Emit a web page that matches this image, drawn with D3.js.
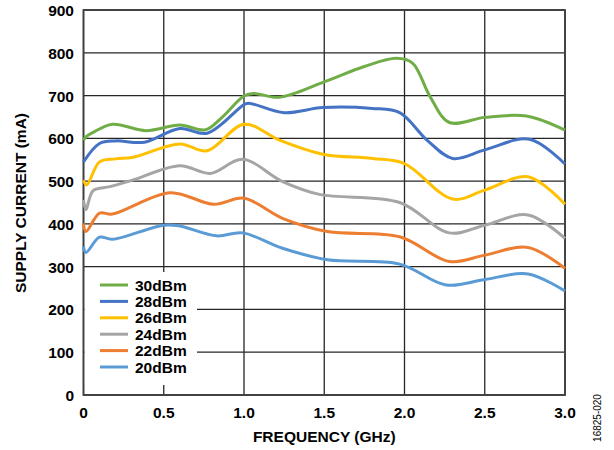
<!DOCTYPE html>
<html>
<head>
<meta charset="utf-8">
<script src="https://cdnjs.cloudflare.com/ajax/libs/d3/7.8.5/d3.min.js"></script>
<style>
  body { margin: 0; background: #fff; }
  svg text { font-family: "Liberation Sans", Arial, sans-serif; }
</style>
</head>
<body>
<div id="chart"></div>
<script>
// series values (frequency GHz, current mA)
var freq30 = [0, 0.02, 0.06, 0.18, 0.39, 0.6, 0.76, 0.86, 1.0, 1.06, 1.22, 1.5, 1.75, 1.95, 2.05, 2.16, 2.28, 2.5, 2.76, 3.0];
var cur30  = [596, 605, 614, 633, 618, 631, 620, 648, 699, 705, 696, 732, 768, 787, 776, 697, 637, 649, 652, 619];

var freq28 = [0, 0.1, 0.2, 0.38, 0.6, 0.77, 1.0, 1.03, 1.25, 1.49, 1.8, 1.97, 2.14, 2.3, 2.5, 2.78, 3.0];
var cur28  = [545, 588, 594, 591, 623, 612, 679, 682, 660, 672, 670, 660, 596, 553, 573, 598, 540];

var freq26 = [0, 0.02, 0.1, 0.2, 0.31, 0.6, 0.77, 1.0, 1.22, 1.49, 1.8, 2.0, 2.3, 2.5, 2.77, 3.0];
var cur26  = [502, 491, 545, 552, 556, 587, 571, 633, 596, 563, 553, 541, 458, 479, 510, 446];

var freq24 = [0, 0.015, 0.06, 0.165, 0.31, 0.6, 0.79, 0.99, 1.24, 1.47, 1.97, 2.28, 2.5, 2.77, 3.0];
var cur24  = [456, 433, 478, 487, 503, 536, 518, 551, 499, 469, 450, 379, 397, 421, 366];

var freq22 = [0, 0.015, 0.1, 0.18, 0.54, 0.81, 1.0, 1.24, 1.52, 1.97, 2.28, 2.5, 2.77, 3.0];
var cur22  = [401, 382, 425, 423, 473, 446, 460, 413, 382, 370, 312, 327, 345, 296];

var freq20 = [0, 0.015, 0.1, 0.18, 0.5, 0.6, 0.83, 0.99, 1.24, 1.52, 1.97, 2.26, 2.5, 2.77, 3.0];
var cur20  = [347, 333, 369, 364, 397, 395, 372, 379, 343, 316, 306, 257, 270, 283, 243];

var seriesNames  = ["30dBm", "28dBm", "26dBm", "24dBm", "22dBm", "20dBm"];
var seriesColors = ["#70ad47", "#4472c4", "#ffc000", "#a5a5a5", "#ed7d31", "#5b9bd5"];
var seriesFreq   = [freq30, freq28, freq26, freq24, freq22, freq20];
var seriesCur    = [cur30, cur28, cur26, cur24, cur22, cur20];

var xTicks = [0, 0.5, 1.0, 1.5, 2.0, 2.5, 3.0];
var xTickLabels = ["0", "0.5", "1.0", "1.5", "2.0", "2.5", "3.0"];
var yTicks = [0, 100, 200, 300, 400, 500, 600, 700, 800, 900];

var width = 614, height = 450;
var plotLeft = 83.5, plotRight = 565, plotTop = 10, plotBottom = 395;
var fontSize = "15.5px";

var svg = d3.select("#chart")
	.append("svg")
	.attr("width", width)
	.attr("height", height);

var x = d3.scaleLinear().domain([0, 3]).range([plotLeft, plotRight]);
var y = d3.scaleLinear().domain([0, 900]).range([plotBottom, plotTop]);

// grid
var grid = svg.append("g");
grid.selectAll("line.h")
	.data(yTicks)
	.enter()
	.append("line")
	.attr("class", "h")
	.attr("x1", plotLeft).attr("x2", plotRight)
	.attr("y1", function(d){ return y(d); })
	.attr("y2", function(d){ return y(d); })
	.attr("stroke", "#262626")
	.attr("stroke-width", 1.3);

grid.selectAll("line.v")
	.data(xTicks)
	.enter()
	.append("line")
	.attr("class", "v")
	.attr("y1", plotTop).attr("y2", plotBottom)
	.attr("x1", function(d){ return x(d); })
	.attr("x2", function(d){ return x(d); })
	.attr("stroke", "#262626")
	.attr("stroke-width", 1.3);

// legend background hides grid behind it
svg.append("rect")
	.attr("x", plotLeft + 1).attr("y", 272)
	.attr("width", 196 - plotLeft).attr("height", 113)
	.attr("fill", "#fff");

svg.append("rect")
	.attr("x", plotLeft).attr("y", plotTop)
	.attr("width", plotRight - plotLeft).attr("height", plotBottom - plotTop)
	.attr("fill", "none")
	.attr("stroke", "#404040")
	.attr("stroke-width", 1.8);

// curves
var line = d3.line()
	.x(function(d){ return x(d[0]); })
	.y(function(d){ return y(d[1]); })
	.curve(d3.curveCatmullRom.alpha(0.5));

var lines = svg.append("g");
seriesNames.forEach(function(name, i){
	var pts = seriesFreq[i].map(function(f, j){ return [f, seriesCur[i][j]]; });
	lines.append("path")
		.datum(pts)
		.attr("fill", "none")
		.attr("stroke", seriesColors[i])
		.attr("stroke-width", 3)
		.attr("stroke-linejoin", "round")
		.attr("d", line);
});

// tick labels
svg.append("g").selectAll("text")
	.data(yTicks)
	.enter()
	.append("text")
	.attr("x", 74)
	.attr("y", function(d){ return y(d) + 6; })
	.attr("text-anchor", "end")
	.attr("font-size", fontSize)
	.attr("font-weight", "bold")
	.text(function(d){ return d; });

svg.append("g").selectAll("text")
	.data(xTicks)
	.enter()
	.append("text")
	.attr("x", function(d){ return x(d); })
	.attr("y", 417.5)
	.attr("text-anchor", "middle")
	.attr("font-size", fontSize)
	.attr("font-weight", "bold")
	.text(function(d, i){ return xTickLabels[i]; });

// axis titles
svg.append("text")
	.attr("x", (plotLeft + plotRight) / 2)
	.attr("y", 442)
	.attr("text-anchor", "middle")
	.attr("font-size", fontSize)
	.attr("font-weight", "bold")
	.text("FREQUENCY (GHz)");

svg.append("text")
	.attr("transform", "translate(26,203) rotate(-90)")
	.attr("text-anchor", "middle")
	.attr("font-size", fontSize)
	.attr("font-weight", "bold")
	.text("SUPPLY CURRENT (mA)");

svg.append("text")
	.attr("transform", "translate(601,418) rotate(-90)")
	.attr("text-anchor", "middle")
	.attr("font-size", "10px")
	.text("16825-020");

// legend
var legend = svg.append("g");
seriesNames.forEach(function(name, i){
	var ly = 285 + i * 16.4;
	legend.append("line")
		.attr("x1", 100).attr("x2", 128)
		.attr("y1", ly).attr("y2", ly)
		.attr("stroke", seriesColors[i])
		.attr("stroke-width", 3);
	legend.append("text")
		.attr("x", 135)
		.attr("y", ly + 5.5)
		.attr("font-size", fontSize)
		.attr("font-weight", "bold")
		.text(name);
});
</script>
</body>
</html>
